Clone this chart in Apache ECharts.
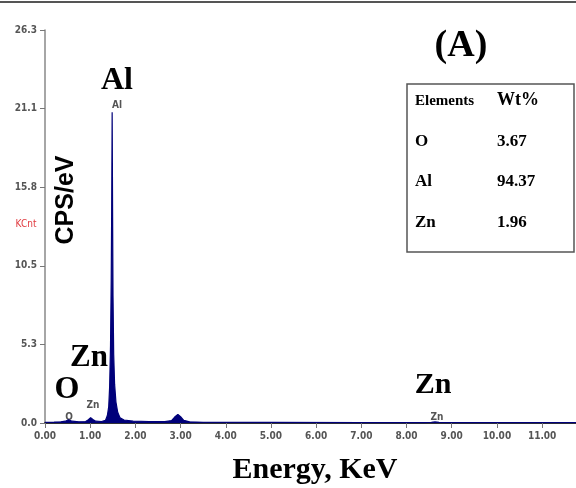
<!DOCTYPE html>
<html>
<head>
<meta charset="utf-8">
<script src="https://cdn.jsdelivr.net/npm/echarts@6/dist/echarts.min.js"></script>
<style>
  html, body { margin: 0; padding: 0; background: #fff; }
  #chart { width: 576px; height: 488px; }
</style>
</head>
<body>
<div id="chart"></div>
<script>
// EDS spectrum (energy in keV, counts in KCnt)
var energy = [0.00, 0.20, 0.35, 0.45, 0.52, 0.60, 0.75, 0.90, 0.96, 1.01, 1.06, 1.12, 1.25, 1.34,
  1.38, 1.41, 1.43, 1.45, 1.465, 1.475, 1.486, 1.495, 1.505, 1.52, 1.54, 1.57, 1.61, 1.66, 1.75,
  1.95, 2.30, 2.65, 2.80, 2.87, 2.94, 3.00, 3.07, 3.20, 3.50, 5.00, 7.00, 8.40, 8.55, 8.63, 8.72,
  9.00, 11.75];
var counts = [0.05, 0.06, 0.08, 0.12, 0.22, 0.12, 0.08, 0.10, 0.22, 0.36, 0.24, 0.12, 0.10, 0.18,
  0.50, 1.10, 2.40, 5.20, 9.50, 14.0, 20.8, 14.5, 8.50, 4.60, 2.60, 1.40, 0.70, 0.35, 0.20,
  0.12, 0.10, 0.09, 0.16, 0.40, 0.58, 0.42, 0.18, 0.08, 0.05, 0.04, 0.03, 0.03, 0.05, 0.07, 0.04,
  0.03, 0.02];

var yTickLabels = ['0.0', '5.3', '10.5', '15.8', '21.1', '26.3'];
var tableHead = ['Elements', 'Wt%'];
var elements = ['O', 'Al', 'Zn'];
var wtPercent = ['3.67', '94.37', '1.96'];

var chart = echarts.init(document.getElementById('chart'));

var spectrum = energy.map(function (e, i) { return [e, counts[i]]; });

var serif = '"Liberation Serif", "Times New Roman", serif';
var small = { fontFamily: '"DejaVu Sans Condensed", "DejaVu Sans", sans-serif', fontSize: 10, fontWeight: 'bold', fill: '#555' };

var graphics = [
  { type: 'line', shape: { x1: 0, y1: 2, x2: 576, y2: 2 }, style: { stroke: '#555', lineWidth: 2 } },
  { type: 'text', x: 461, y: 46, style: { text: '(A)', font: 'bold 38px ' + serif, fill: '#000', textAlign: 'center', textVerticalAlign: 'middle' } },
  { type: 'text', x: 117, y: 81, style: { text: 'Al', font: 'bold 32px ' + serif, fill: '#000', textAlign: 'center', textVerticalAlign: 'middle' } },
  { type: 'text', x: 89, y: 358, style: { text: 'Zn', font: 'bold 31px ' + serif, fill: '#000', textAlign: 'center', textVerticalAlign: 'middle' } },
  { type: 'text', x: 67, y: 390, style: { text: 'O', font: 'bold 32px ' + serif, fill: '#000', textAlign: 'center', textVerticalAlign: 'middle' } },
  { type: 'text', x: 433, y: 385, style: { text: 'Zn', font: 'bold 30px ' + serif, fill: '#000', textAlign: 'center', textVerticalAlign: 'middle' } },
  { type: 'text', x: 66, y: 200, rotation: Math.PI / 2, style: { text: 'CPS/eV', font: 'bold 25px "Liberation Sans", Arial, sans-serif', fill: '#000', textAlign: 'center', textVerticalAlign: 'middle' } },
  { type: 'text', x: 26, y: 224, style: { text: 'KCnt', font: '10px "DejaVu Sans Condensed", sans-serif', fill: '#e0393e', textAlign: 'center', textVerticalAlign: 'middle' } },
  { type: 'text', x: 117, y: 105, style: Object.assign({ text: 'Al', textAlign: 'center', textVerticalAlign: 'middle' }, small) },
  { type: 'text', x: 93, y: 405, style: Object.assign({ text: 'Zn', textAlign: 'center', textVerticalAlign: 'middle' }, small) },
  { type: 'text', x: 69, y: 417, style: Object.assign({ text: 'O', textAlign: 'center', textVerticalAlign: 'middle' }, small) },
  { type: 'text', x: 437, y: 417, style: Object.assign({ text: 'Zn', textAlign: 'center', textVerticalAlign: 'middle' }, small) },
  { type: 'rect', shape: { x: 407, y: 84, width: 167, height: 168 }, style: { fill: '#fff', stroke: '#555', lineWidth: 1.5 } },
  { type: 'text', x: 415, y: 101, style: { text: tableHead[0], font: 'bold 15px ' + serif, fill: '#000', textVerticalAlign: 'middle' } },
  { type: 'text', x: 497, y: 100, style: { text: tableHead[1], font: 'bold 18px ' + serif, fill: '#000', textVerticalAlign: 'middle' } }
];
var rowY = [142, 182, 223];
elements.forEach(function (el, i) {
  graphics.push({ type: 'text', x: 415, y: rowY[i], style: { text: el, font: 'bold 17px ' + serif, fill: '#000', textVerticalAlign: 'middle' } });
  graphics.push({ type: 'text', x: 497, y: rowY[i], style: { text: wtPercent[i], font: 'bold 17px ' + serif, fill: '#000', textVerticalAlign: 'middle' } });
});
graphics.push({ type: 'text', x: 315, y: 470, style: { text: 'Energy, KeV', font: 'bold 30px ' + serif, fill: '#000', textAlign: 'center', textVerticalAlign: 'middle' } });

var labelFont = { fontFamily: '"DejaVu Sans Condensed", "DejaVu Sans", sans-serif', fontSize: 10, fontWeight: 'bold', color: '#555' };

var option = {
  animation: false,
  grid: { left: 45, right: 0, top: 30, bottom: 65 },
  xAxis: {
    type: 'value',
    min: 0,
    max: 11.75,
    interval: 1,
    splitLine: { show: false },
    axisLine: { lineStyle: { color: '#333', width: 2 } },
    axisTick: { length: 5, lineStyle: { color: '#777' } },
    axisLabel: Object.assign({
      margin: 8,
      showMaxLabel: false,
      formatter: function (v) { return Number.isInteger(v) ? v.toFixed(2) : ''; }
    }, labelFont)
  },
  yAxis: {
    type: 'value',
    min: 0,
    max: 26.3,
    interval: 5.26,
    splitLine: { show: false },
    axisLine: { show: true, lineStyle: { color: '#888', width: 1.5 } },
    axisTick: { show: true, length: 5, lineStyle: { color: '#777' } },
    axisLabel: Object.assign({
      margin: 8,
      formatter: function (v) {
        var i = Math.round(v / 5.26);
        return yTickLabels[i] !== undefined ? yTickLabels[i] : '';
      }
    }, labelFont)
  },
  series: [{
    type: 'line',
    data: spectrum,
    showSymbol: false,
    lineStyle: { color: '#00007a', width: 1.2 },
    areaStyle: { color: '#00007a', opacity: 1 }
  }],
  graphic: graphics
};

chart.setOption(option);
</script>
</body>
</html>
